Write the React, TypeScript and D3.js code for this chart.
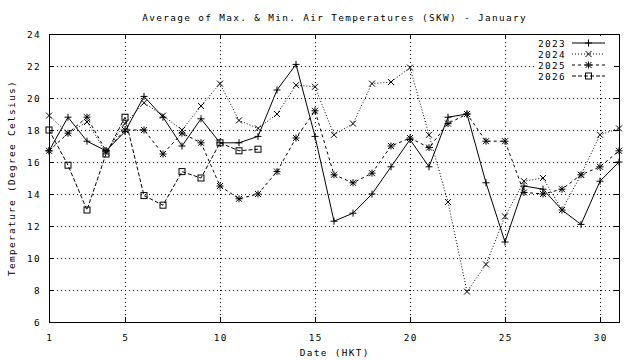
import * as d3 from 'd3'

// values (day 1..31)
const days = d3.range(1, 32)
const t2023 = [16.7, 18.8, 17.3, 16.7, 17.9, 20.1, 18.8, 17.0, 18.7, 17.2, 17.2, 17.6, 20.5, 22.1, 17.6, 12.3, 12.8, 14.0, 15.7, 17.4, 15.7, 18.8, 19.0, 14.7, 11.0, 14.5, 14.3, 13.0, 12.1, 14.8, 16.0]
const t2024 = [18.9, 17.8, 18.5, 16.6, 18.4, 19.7, 18.9, 18.0, 19.5, 20.9, 18.6, 18.1, 19.0, 20.8, 20.7, 17.7, 18.4, 20.9, 21.0, 21.9, 17.7, 13.5, 7.9, 9.6, 12.6, 14.8, 15.0, 13.0, 15.2, 17.7, 18.1]
const t2025 = [16.7, 17.8, 18.8, 16.7, 18.0, 18.0, 16.5, 17.8, 17.2, 14.5, 13.7, 14.0, 15.4, 17.5, 19.2, 15.2, 14.7, 15.3, 17.0, 17.5, 16.9, 18.4, 19.0, 17.3, 17.3, 14.1, 14.0, 14.3, 15.2, 15.7, 16.7]
const t2026 = [18.0, 15.8, 13.0, 16.5, 18.8, 13.9, 13.3, 15.4, 15.0, 17.2, 16.7, 16.8]

const xTicks = [1, 5, 10, 15, 20, 25, 30]
const yTicks = d3.range(6, 25, 2)

const W = 640
const H = 360
const FONT = '"DejaVu Sans Mono", monospace'
const FS = 9.4
const LS = 1.35

type Mark = '+' | 'x' | '*' | 'sq'

const series: { name: string; values: number[]; dash: string; mark: Mark }[] = [
  { name: '2023', values: t2023, dash: 'none', mark: '+' },
  { name: '2024', values: t2024, dash: '1,2', mark: 'x' },
  { name: '2025', values: t2025, dash: '3,3', mark: '*' },
  { name: '2026', values: t2026, dash: '4,2', mark: 'sq' },
]

function Marker({ cx, cy, mark }: { cx: number; cy: number; mark: Mark }) {
  const s = 3.5
  const d = 3
  if (mark === '+') return <path d={`M${cx - s},${cy}H${cx + s}M${cx},${cy - s}V${cy + s}`} stroke="#000" />
  if (mark === 'x') return <path d={`M${cx - d},${cy - d}L${cx + d},${cy + d}M${cx - d},${cy + d}L${cx + d},${cy - d}`} stroke="#000" />
  if (mark === '*')
    return (
      <path
        d={`M${cx - s},${cy}H${cx + s}M${cx},${cy - s}V${cy + s}M${cx - d},${cy - d}L${cx + d},${cy + d}M${cx - d},${cy + d}L${cx + d},${cy - d}`}
        stroke="#000"
      />
    )
  return <rect x={cx - 3} y={cy - 3} width={6} height={6} fill="none" stroke="#000" />
}

export default function App() {
  const left = 49
  const right = 619
  const top = 34
  const bottom = 322

  const x = d3.scaleLinear().domain([1, 31]).range([left, right])
  const y = d3.scaleLinear().domain([6, 24]).range([bottom, top])

  const line = d3
    .line<number>()
    .x((_, i) => x(days[i]))
    .y(v => y(v))

  const legendX = 566
  const legendY = 43
  const legendStep = 11

  return (
    <svg
      width={W}
      height={H}
      style={{ position: 'absolute', left: 0, top: 0, background: '#fff' }}
      fontFamily={FONT}
      fontSize={FS}
      letterSpacing={LS}
    >
      <rect width={W} height={H} fill="#fff" />

      {/* grid */}
      <g stroke="#000" strokeDasharray="1,3" shapeRendering="crispEdges">
        {yTicks.map(t => (
          <line key={'gy' + t} x1={left} x2={right} y1={Math.round(y(t)) + 0.5} y2={Math.round(y(t)) + 0.5} />
        ))}
        {xTicks.filter(t => t > 1).map(t => (
          <line key={'gx' + t} x1={Math.round(x(t)) + 0.5} x2={Math.round(x(t)) + 0.5} y1={top} y2={bottom} />
        ))}
      </g>

      {/* ticks */}
      <g stroke="#000" shapeRendering="crispEdges">
        {yTicks.map(t => {
          const yy = Math.round(y(t)) + 0.5
          return (
            <g key={'ty' + t}>
              <line x1={left} x2={left + 5} y1={yy} y2={yy} />
              <line x1={right - 5} x2={right} y1={yy} y2={yy} />
            </g>
          )
        })}
        {xTicks.map(t => {
          const xx = Math.round(x(t)) + 0.5
          return (
            <g key={'tx' + t}>
              <line x1={xx} x2={xx} y1={bottom} y2={bottom - 5} />
              <line x1={xx} x2={xx} y1={top} y2={top + 5} />
            </g>
          )
        })}
      </g>

      {/* legend background */}
      <rect x={534} y={36} width={80} height={46} fill="#fff" />

      {/* series */}
      {series.map(s => (
        <g key={s.name}>
          <path d={line(s.values) || ''} fill="none" stroke="#000" strokeWidth={1} strokeDasharray={s.dash} />
          {s.values.map((v, i) => (
            <Marker key={i} cx={x(days[i])} cy={y(v)} mark={s.mark} />
          ))}
        </g>
      ))}

      {/* legend */}
      {series.map((s, i) => {
        const ly = legendY + i * legendStep
        return (
          <g key={'lg' + s.name}>
            <text x={legendX} y={ly} textAnchor="end" dominantBaseline="central">
              {s.name}
            </text>
            <line x1={572} x2={605} y1={ly} y2={ly} stroke="#000" strokeDasharray={s.dash} />
            <Marker cx={588.5} cy={ly} mark={s.mark} />
          </g>
        )
      })}

      {/* border */}
      <rect x={left + 0.5} y={top + 0.5} width={right - left} height={bottom - top} fill="none" stroke="#000" shapeRendering="crispEdges" />

      {/* tick labels */}
      {yTicks.map(t => (
        <text key={'ly' + t} x={41} y={y(t)} textAnchor="end" dominantBaseline="central">
          {t}
        </text>
      ))}
      {xTicks.map(t => (
        <text key={'lx' + t} x={x(t) + LS / 2} y={337} textAnchor="middle" dominantBaseline="central">
          {t}
        </text>
      ))}

      {/* titles */}
      <text x={(left + right) / 2 + LS / 2} y={17} textAnchor="middle" dominantBaseline="central">
        Average of Max. &amp; Min. Air Temperatures (SKW) - January
      </text>
      <text x={(left + right) / 2 + LS / 2} y={352} textAnchor="middle" dominantBaseline="central">
        Date (HKT)
      </text>
      <text
        transform={`translate(11,${(top + bottom) / 2}) rotate(-90)`}
        textAnchor="middle"
        dominantBaseline="central"
      >
        Temperature (Degree Celsius)
      </text>
    </svg>
  )
}
